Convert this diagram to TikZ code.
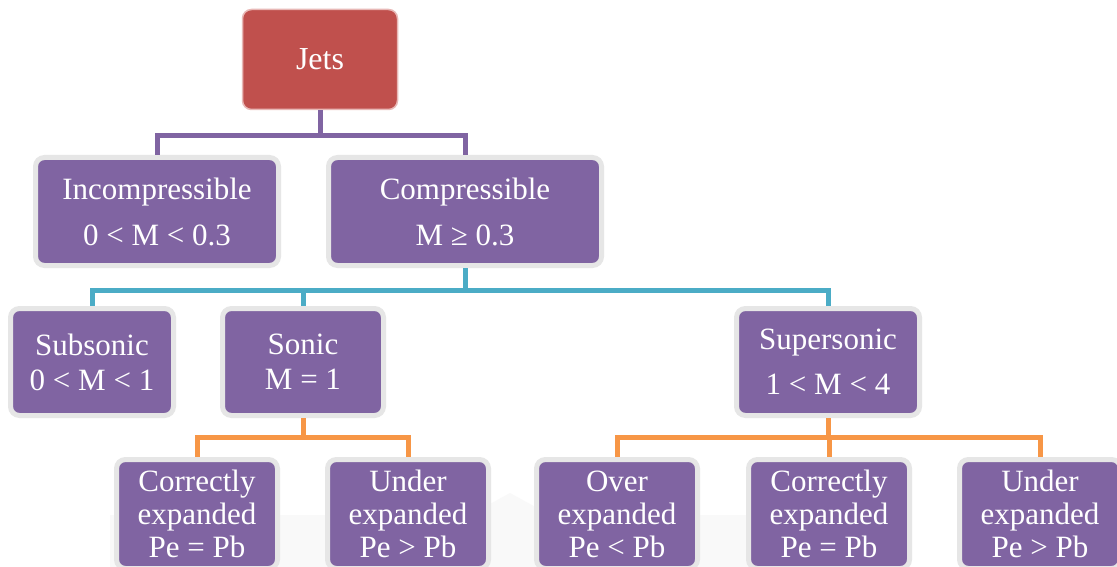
\documentclass[tikz,border=0pt]{standalone}
\usepackage{fontspec}
\setmainfont{Liberation Serif}
\definecolor{boxpurple}{HTML}{8064A2}
\definecolor{jetred}{HTML}{C0504D}
\definecolor{jetrim}{HTML}{E8B8B6}
\definecolor{rimgray}{HTML}{E6E6E6}
\definecolor{linepurple}{HTML}{8064A2}
\definecolor{linecyan}{HTML}{4BACC6}
\definecolor{lineorange}{HTML}{F79646}
\definecolor{faintgray}{HTML}{F9F9F9}
\begin{document}
\begin{tikzpicture}[x=1pt,y=-1pt,
  catbox/.style={draw=rimgray, line width=5pt, fill=boxpurple, rounded corners=9pt,
    text=white, align=center, inner sep=0pt},
  rowtwo/.style={catbox, minimum height=108pt, font=\fontsize{31}{46}\selectfont},
  rowthree/.style={catbox, minimum height=107pt, font=\fontsize{31}{35}\selectfont},
  rowfour/.style={catbox, minimum height=109pt, minimum width=161pt, font=\fontsize{31}{33}\selectfont},
  topbox/.style={draw=jetrim, line width=1.5pt, fill=jetred, rounded corners=9pt,
    text=white, align=center, inner sep=0pt, minimum width=155pt, minimum height=100pt,
    font=\fontsize{32}{35}\selectfont},
  purpleline/.style={draw=linepurple, line width=5pt},
  cyanline/.style={draw=linecyan, line width=5pt},
  orangeline/.style={draw=lineorange, line width=5pt}]
\useasboundingbox (0,0) rectangle (1117,567);
\fill[white] (0,0) rectangle (1117,567);
\clip (0,0) rectangle (1117,567);
% faint background shape
\fill[faintgray] (110,567) -- (110,515) -- (470,515) -- (510,493) -- (550,515) -- (905,515) -- (905,567) -- cycle;

% nodes
\node[topbox] (jets) at (320,59.5) {Jets};
\node[rowtwo, minimum width=243pt] (incomp) at (157,211.5) {Incompressible\\0 < M < 0.3};
\node[rowtwo, minimum width=273pt] (comp) at (465,211.5) {Compressible\\M ≥ 0.3};
\node[rowthree, minimum width=163pt] (sub) at (92,362) {Subsonic\\0 < M < 1};
\node[rowthree, minimum width=161pt] (sonic) at (303,362) {Sonic\\M = 1};
\node[rowthree, minimum width=183pt, font=\fontsize{31}{45}\selectfont] (super) at (828,362) {Supersonic\\1 < M < 4};
\node[rowfour] (corr1) at (197,514) {Correctly\\expanded\\Pe = Pb};
\node[rowfour] (under1) at (408,514) {Under\\expanded\\Pe > Pb};
\node[rowfour] (over) at (617,514) {Over\\expanded\\Pe < Pb};
\node[rowfour] (corr2) at (829,514) {Correctly\\expanded\\Pe = Pb};
\node[rowfour] (under2) at (1040,514) {Under\\expanded\\Pe > Pb};

% connectors
\draw[purpleline] (jets.south) -- ++(0,25) -| (incomp.north);
\draw[purpleline] (jets.south) -- ++(0,25) -| (comp.north);
\draw[cyanline] (comp.south) -- ++(0,22) -| (sub.north);
\draw[cyanline] (comp.south) -- ++(0,22) -| (sonic.north);
\draw[cyanline] (comp.south) -- ++(0,22) -| (super.north);
\draw[orangeline] (sonic.south) -- ++(0,19) -| (corr1.north);
\draw[orangeline] (sonic.south) -- ++(0,19) -| (under1.north);
\draw[orangeline] (super.south) -- ++(0,19) -| (over.north);
\draw[orangeline] (super.south) -- ++(0,19) -| (corr2.north);
\draw[orangeline] (super.south) -- ++(0,19) -| (under2.north);
\end{tikzpicture}
\end{document}
